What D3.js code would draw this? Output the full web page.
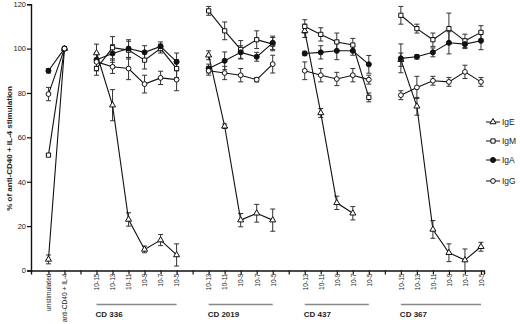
<!DOCTYPE html>
<html><head><meta charset="utf-8">
<script src="https://cdn.jsdelivr.net/npm/d3@7"></script>
<style>body{margin:0;background:#fff}svg{display:block;font-family:"Liberation Sans",Arial,sans-serif}</style>
</head><body>
<svg id="c" width="520" height="324"></svg>
<script>
const tickLabels = ["unstimulated","anti-CD40 + IL-4","","10-15","10-13","10-11","10-9","10-7","10-5","","10-13","10-11","10-9","10-7","10-5","","10-13","10-11","10-9","10-7","10-5","","10-15","10-13","10-11","10-9","10-7","10-5"];
const yTicks = [0,20,40,60,80,100,120];
const seriesNames = ["IgE","IgM","IgA","IgG"];
const igE = [5,100,null, 98,74.5,23,9.5,13.7,7, null, 97,65,22.7,25.8,22.7, null, 108,71,30.5,25.8,null, null, 95,74,18.5,8,4.7,10.7];
const igM = [52,100,null, 91,100.4,99.3,94.8,100,91, null, 117,108,99.6,104,102, null, 110,106.4,103,101.6,78, null, 115,109,104,109,103.5,107.3];
const igA = [90,100,null, 95,97.8,100,98.3,101,94, null, 91,94.5,98.3,96.3,102.6, null, 97.8,98.3,99,99,92.9, null, 95.6,96.3,98.3,102.6,102,103.5];
const igG = [79.5,100,null, 94,91.8,91,84,86.8,86, null, 90,89,88,86,93, null, 90,88,86.3,88,86, null, 79,82.5,85.5,85,89.5,85];
const errE = [2,0,null, 4,7,3,1.5,2.5,5, null, 2,1,3,4,5, null, 3,2,3,3,null, null, 3,4,4,4,5,2];
const errM = [0.5,0,null, 3,5,4,4,2,4, null, 2,4,4,4,3, null, 3,3,4,3,2, null, 4,2,3,7,3,3];
const errA = [1,0,null, 3,4,4,3,2,4, null, 2,4,3,2,3, null, 1,3,4,2,4, null, 6.5,1,2,5,2,4];
const errG = [3,0,null, 4,3,5,4,3,5, null, 2,3,3,1,4, null, 4,3,3,3,2, null, 2,5,2,2,3,2];
const groupNames = ["CD 336","CD 2019","CD 437","CD 367"];
const groupStart = [3,10,16,22];
const groupEnd = [8,14,20,27];

const svg = d3.select("#c");
const x = d3.scaleLinear().domain([-1.09, 27.19]).range([31, 484]);
const y = d3.scaleLinear().domain([0,120]).range([270.5, 4.2]);

// axes
const gx = svg.append("g").attr("transform",`translate(0,${y(0)})`)
  .call(d3.axisBottom(x).tickValues(d3.range(tickLabels.length)).tickFormat(i=>tickLabels[i]).tickSizeOuter(0).tickSize(4));
gx.selectAll("text").attr("transform","rotate(-90)").attr("text-anchor","end")
  .attr("x",-3).attr("y",0).attr("dy","0.35em").style("font-size","6.6px").attr("fill","#222");
const gy = svg.append("g").attr("transform",`translate(${x(-1.09)},0)`)
  .call(d3.axisLeft(y).tickValues(yTicks).tickSizeOuter(0).tickSize(4));
gy.selectAll("text").style("font-size","7.5px").attr("fill","#222").attr("x",-5);
svg.selectAll(".domain").attr("stroke","#111").attr("stroke-width",1.4);
svg.selectAll(".tick line").attr("stroke","#111").attr("stroke-width",1.2);

svg.append("text").attr("transform",`translate(12,${y(55)}) rotate(-90)`)
  .attr("text-anchor","middle").style("font-size","8px").style("font-weight","bold").attr("fill","#222")
  .text("% of anti-CD40 + IL-4 stimulation");

// group brackets
groupNames.forEach((g,k)=>{
  svg.append("line").attr("x1",x(groupStart[k])).attr("x2",x(groupEnd[k]))
    .attr("y1",304.5).attr("y2",304.5).attr("stroke","#888").attr("stroke-width",1.5);
  svg.append("text").attr("x",x(groupStart[k])-1).attr("y",317)
    .style("font-size","8px").style("font-weight","bold").attr("fill","#222").text(g);
});

const seriesVals = [igE,igM,igA,igG];
const seriesErr = [errE,errM,errA,errG];
const line = d3.line().defined(d=>d.v!=null).x(d=>x(d.i)).y(d=>y(d.v));

function marker(sel, k){
  if(k===0){
    sel.append("path").attr("d",d3.symbol(d3.symbolTriangle,16)).attr("fill","#fff").attr("stroke","#111").attr("stroke-width",1);
  } else if(k===1){
    sel.append("path").attr("d",d3.symbol(d3.symbolSquare,18)).attr("fill","#fff").attr("stroke","#111").attr("stroke-width",1);
  } else if(k===2){
    sel.append("path").attr("d",d3.symbol(d3.symbolCircle,20)).attr("fill","#111").attr("stroke","#111").attr("stroke-width",1);
  } else {
    sel.append("path").attr("d",d3.symbol(d3.symbolCircle,18)).attr("fill","#fff").attr("stroke","#111").attr("stroke-width",1);
  }
}

// error bars
seriesVals.forEach((vals,k)=>{
  const pts = vals.map((v,i)=>({i,v,e:seriesErr[k][i]})).filter(d=>d.v!=null && d.e>0);
  const g = svg.append("g").attr("stroke","#333").attr("stroke-width",1);
  g.selectAll("line.v").data(pts).join("line").attr("x1",d=>x(d.i)).attr("x2",d=>x(d.i))
    .attr("y1",d=>y(d.v+d.e)).attr("y2",d=>y(d.v-d.e));
  g.selectAll("line.t").data(pts).join("line").attr("x1",d=>x(d.i)-2.5).attr("x2",d=>x(d.i)+2.5)
    .attr("y1",d=>y(d.v+d.e)).attr("y2",d=>y(d.v+d.e));
  g.selectAll("line.b").data(pts).join("line").attr("x1",d=>x(d.i)-2.5).attr("x2",d=>x(d.i)+2.5)
    .attr("y1",d=>y(d.v-d.e)).attr("y2",d=>y(d.v-d.e));
});
// lines
seriesVals.forEach((vals,k)=>{
  const data = vals.map((v,i)=>({i,v}));
  svg.append("path").datum(data).attr("d",line).attr("fill","none").attr("stroke","#111").attr("stroke-width",1.1);
});
// markers
seriesVals.forEach((vals,k)=>{
  vals.forEach((v,i)=>{
    if(v==null) return;
    const g = svg.append("g").attr("transform",`translate(${x(i)},${y(v)})`);
    marker(g,k);
  });
});

// legend
const legY = [122,141,160,181];
seriesNames.forEach((n,k)=>{
  const g = svg.append("g").attr("transform",`translate(493,${legY[k]})`);
  g.append("line").attr("x1",-7).attr("x2",7).attr("stroke","#111").attr("stroke-width",1);
  marker(g,k);
  g.append("text").attr("x",9).attr("dy","0.35em").style("font-size","8.5px").attr("fill","#222").text(n);
});
</script>
</body></html>
